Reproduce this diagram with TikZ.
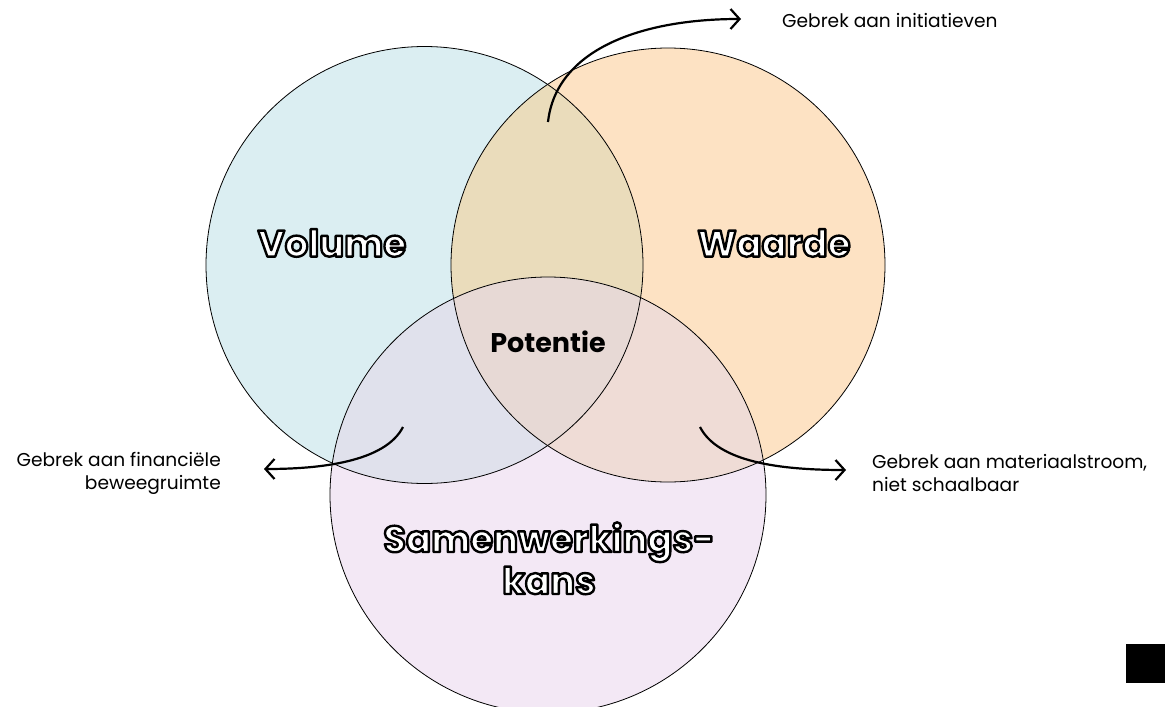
\documentclass[tikz,border=0pt]{standalone}
\usepackage{fontspec}
\setmainfont{Poppins}
\usetikzlibrary{arrows.meta}

\definecolor{volC}{RGB}{219,238,242}
\definecolor{waaC}{RGB}{253,226,195}
\definecolor{samC}{RGB}{243,232,245}
\definecolor{vwC}{RGB}{234,220,187}
\definecolor{vsC}{RGB}{224,225,236}
\definecolor{wsC}{RGB}{239,220,214}
\definecolor{allC}{RGB}{231,217,213}

\tikzset{
  ring/.style={draw=black, line width=0.8pt},
  bigword/.style={font=\bfseries\fontsize{37}{42}\selectfont, align=center, inner sep=0pt},
  midword/.style={font=\bfseries\fontsize{27}{30}\selectfont, inner sep=0pt},
  note/.style={font=\fontsize{18.6}{23}\selectfont, inner sep=0pt},
  pointer/.style={line width=2.2pt, -{Straight Barb[length=9pt,width=20pt,line width=2.2pt]}}
}

% white letters with a black outline (fill + stroke text rendering)
\newcommand{\outlined}[1]{{\color{white}%
  \special{pdf:literal direct 0 0 0 RG 2 Tr 2.4 w 1 j}#1%
  \special{pdf:literal direct 0 Tr 0.4 w 0 j}}}

\begin{document}
\begin{tikzpicture}[x=1pt,y=-1pt]
  \useasboundingbox (0,0) rectangle (1165,707);

  % circle centres and radii
  \coordinate (cv) at (424.5,265);
  \coordinate (cw) at (668,265);
  \coordinate (cs) at (548,495);
  \def\rv{218.5}
  \def\rw{217}
  \def\rs{218}

  \begin{scope}
    \clip (0,0) rectangle (1165,707);
    % single regions
    \fill[volC] (cv) circle[radius=\rv];
    \fill[waaC] (cw) circle[radius=\rw];
    \fill[samC] (cs) circle[radius=\rs];
    % pairwise overlaps
    \begin{scope}
      \clip (cv) circle[radius=\rv];
      \fill[vwC] (cw) circle[radius=\rw];
      \fill[vsC] (cs) circle[radius=\rs];
    \end{scope}
    \begin{scope}
      \clip (cw) circle[radius=\rw];
      \fill[wsC] (cs) circle[radius=\rs];
      \clip (cs) circle[radius=\rs];
      \fill[allC] (cv) circle[radius=\rv];
    \end{scope}
    % outlines
    \draw[ring] (cv) circle[radius=\rv];
    \draw[ring] (cw) circle[radius=\rw];
    \draw[ring] (cs) circle[radius=\rs];
  \end{scope}

  % set names
  \node[bigword] (volume) at (332,243) {\outlined{Volume}};
  \node[bigword] (waarde) at (774,243) {\outlined{Waarde}};
  \node[bigword, anchor=base] (samen) at (549,552) {\outlined{Samenwerkings-}};
  \node[bigword, anchor=base] (kans) at (549,594) {\outlined{kans}};
  \node[midword] (potentie) at (548,342) {Potentie};

  % side notes
  \node[note, anchor=west] (initiatief) at (782,21) {Gebrek aan initiatieven};
  \node[note, anchor=east, align=right] (financieel) at (221,473)
    {Gebrek aan financiële\\beweegruimte};
  \node[note, anchor=west, align=left] (materiaal) at (872,473)
    {Gebrek aan materiaalstroom,\\niet schaalbaar};

  % pointer ends
  \coordinate (p1s) at (548,122);
  \coordinate (p1e) at (741,19);
  \coordinate (p2s) at (403,427);
  \coordinate (p2e) at (264,469);
  \coordinate (p3s) at (700,427);
  \coordinate (p3e) at (846,470);

  \draw[pointer] (p1s) .. controls (556,50) and (640,19) .. (p1e);
  \draw[pointer] (p2s) .. controls (385,462) and (320,469) .. (p2e);
  \draw[pointer] (p3s) .. controls (718,462) and (780,470) .. (p3e);

  % corner marker
  \fill[black] (1126,644) rectangle (1165,683);
\end{tikzpicture}
\end{document}
